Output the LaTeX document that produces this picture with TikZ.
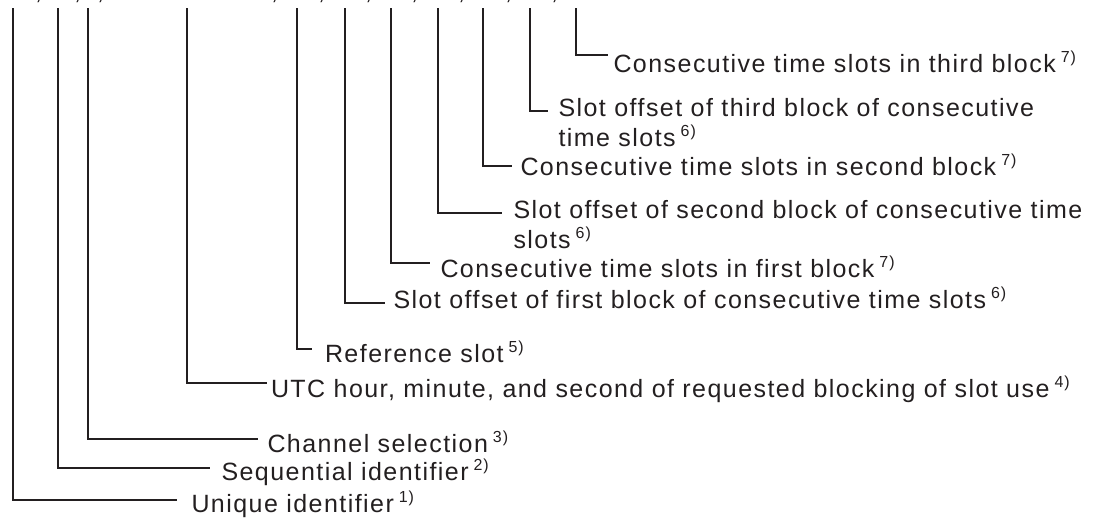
\documentclass[tikz,border=0pt]{standalone}
\usepackage{fontspec}
\setmainfont{Liberation Sans}[LetterSpace=5.8]
\definecolor{ink}{RGB}{35,31,32}
\newcommand\supnum[1]{\hspace{5pt}\raisebox{10pt}{\fontsize{16}{16}\selectfont #1)}}
\begin{document}
\begin{tikzpicture}[x=1pt,y=-1pt,
  conn/.style={draw=ink,line width=1.1pt},
  lbl/.style={anchor=base west,inner sep=0pt,outer sep=0pt,text=ink,font=\fontsize{25}{30}\selectfont},
  commamark/.style={anchor=base west,inner sep=0pt,outer sep=0pt,text=ink,font=\fontsize{25}{30}\selectfont}]
\useasboundingbox (0,0) rectangle (1106,517);

% cropped header line (only comma tails visible)
\begin{scope}
\clip (0,0) rectangle (1106,8);
\node[commamark] (k1) at (35,-0.5) {,};
\node[commamark] (k2) at (74,-0.5) {,};
\node[commamark] (k3) at (97,-0.5) {,};
\node[commamark] (k4) at (271,-0.5) {,};
\node[commamark] (k5) at (318,-0.5) {,};
\node[commamark] (k6) at (365,-0.5) {,};
\node[commamark] (k7) at (411,-0.5) {,};
\node[commamark] (k8) at (458,-0.5) {,};
\node[commamark] (k9) at (505,-0.5) {,};
\node[commamark] (k10) at (551,-0.5) {,};
\end{scope}

% tops of the field markers
\coordinate (tU) at (13,8);
\coordinate (tSq) at (58,8);
\coordinate (tCh) at (88,8);
\coordinate (tUTC) at (187,8);
\coordinate (tRef) at (297,8);
\coordinate (tS1) at (345,8);
\coordinate (tC1) at (391,8);
\coordinate (tS2) at (438,8);
\coordinate (tC2) at (483,8);
\coordinate (tS3) at (530,8);
\coordinate (tC3) at (576,8);

% labels
\node[lbl] (nU) at (191.5,512) {Unique identifier\supnum{1}};
\node[lbl] (nSq) at (221.5,480) {Sequential identifier\supnum{2}};
\node[lbl] (nCh) at (267.5,452) {Channel selection\supnum{3}};
\node[lbl] (nUTC) at (271,397) {UTC hour, minute, and second of requested blocking of slot use\supnum{4}};
\node[lbl] (nRef) at (325,362) {Reference slot\supnum{5}};
\node[lbl] (nS1) at (393.5,308) {Slot offset of first block of consecutive time slots\supnum{6}};
\node[lbl] (nC1) at (440.5,277) {Consecutive time slots in first block\supnum{7}};
\node[lbl] (nS2) at (513.5,218) {\vtop{\baselineskip=30pt\hbox{Slot offset of second block of consecutive time}\hbox{slots\supnum{6}}}};
\node[lbl] (nC2) at (520.5,175) {Consecutive time slots in second block\supnum{7}};
\node[lbl] (nS3) at (558.5,116) {\vtop{\baselineskip=30pt\hbox{Slot offset of third block of consecutive}\hbox{time slots\supnum{6}}}};
\node[lbl] (nC3) at (613.5,72) {Consecutive time slots in third block\supnum{7}};

% connectors
\draw[conn] (tU) |- ([xshift=-14.5pt,yshift=12pt]nU.base west);
\draw[conn] (tSq) |- ([xshift=-11.5pt,yshift=12pt]nSq.base west);
\draw[conn] (tCh) |- ([xshift=-9.5pt,yshift=13pt]nCh.base west);
\draw[conn] (tUTC) |- ([xshift=-4pt,yshift=14pt]nUTC.base west);
\draw[conn] (tRef) |- ([xshift=-13pt,yshift=13pt]nRef.base west);
\draw[conn] (tS1) |- ([xshift=-8.5pt,yshift=5pt]nS1.base west);
\draw[conn] (tC1) |- ([xshift=-10.5pt,yshift=14pt]nC1.base west);
\draw[conn] (tS2) |- ([xshift=-11.5pt,yshift=5pt]nS2.base west);
\draw[conn] (tC2) |- ([xshift=-8.5pt,yshift=9pt]nC2.base west);
\draw[conn] (tS3) |- ([xshift=-10.5pt,yshift=5pt]nS3.base west);
\draw[conn] (tC3) |- ([xshift=-5.5pt,yshift=17pt]nC3.base west);
\end{tikzpicture}
\end{document}
